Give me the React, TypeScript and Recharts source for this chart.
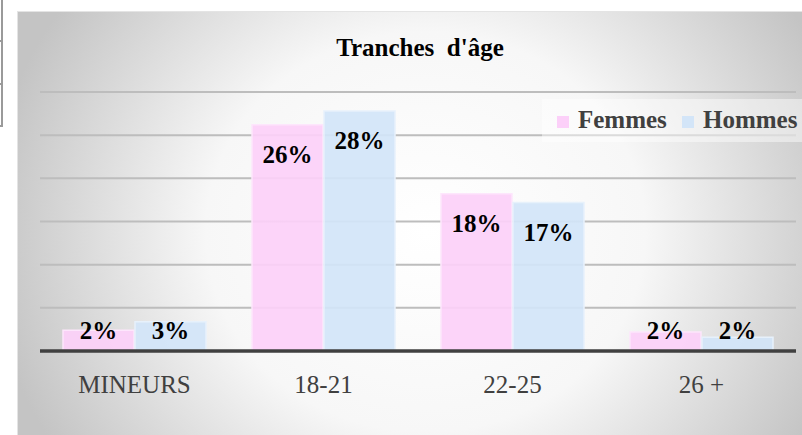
import React from 'react'
import {
  BarChart,
  Bar,
  XAxis,
  YAxis,
  CartesianGrid,
  ReferenceLine,
  LabelList,
} from 'recharts'

const categories = ['MINEURS', '18-21', '22-25', '26 +']
const femmes = [2.4, 26.2, 18.2, 2.2]
const hommes = [3.4, 27.8, 17.2, 1.6]
const yTicks = [0, 5, 10, 15, 20, 25, 30]

const data = categories.map((name, i) => ({ name, femmes: femmes[i], hommes: hommes[i] }))

const FONT = "'Liberation Serif', 'Times New Roman', serif"
const PINK = '#fcd0f9'
const BLUE = '#d3e5f8'

// label sits ~30px under the bar top, but never lower than just above the baseline
function BarLabel(props: any) {
  const { x, y, width, height, value } = props
  const cy = Math.min(y + 30, y + height - 21)
  return (
    <text
      x={x + width / 2}
      y={cy}
      textAnchor="middle"
      dominantBaseline="central"
      fontFamily={FONT}
      fontWeight="bold"
      fontSize={25}
      fill="#000"
    >
      {Math.round(value)}%
    </text>
  )
}

function CategoryTick(props: any) {
  const { x, y, payload } = props
  return (
    <text x={x} y={y + 42} textAnchor="middle" fontFamily={FONT} fontSize={25} fill="#404040">
      {payload.value}
    </text>
  )
}

function LegendBox() {
  const sq = { position: 'absolute' as const, top: 17, width: 12, height: 12 }
  const txt = {
    position: 'absolute' as const,
    top: 8,
    fontFamily: FONT,
    fontWeight: 'bold' as const,
    fontSize: 25,
    lineHeight: '26px',
    color: '#404040',
    whiteSpace: 'nowrap' as const,
  }
  return (
    <div style={{ position: 'absolute', left: 542, top: 99, width: 260, height: 43, background: 'rgba(255,255,255,0.45)' }}>
      <div style={{ ...sq, left: 15, background: PINK }} />
      <div style={{ ...txt, left: 36 }}>Femmes</div>
      <div style={{ ...sq, left: 140, background: BLUE }} />
      <div style={{ ...txt, left: 161 }}>Hommes</div>
    </div>
  )
}

export default function App() {
  return (
    <div style={{ position: 'absolute', left: 0, top: 0, width: 802, height: 435, background: '#fff', overflow: 'hidden' }}>
      <div
        style={{
          position: 'absolute',
          left: 17,
          top: 11,
          width: 785,
          height: 424,
          background:
            'radial-gradient(ellipse 440px 400px at 52% 52%, #ffffff 0%, #f7f7f7 50%, #c4c4c4 100%)',
          borderTop: '1px solid #e4e4e4',
          borderLeft: '1px solid #e4e4e4',
          boxSizing: 'border-box',
        }}
      >
        <BarChart
          width={785}
          height={424}
          data={data}
          margin={{ top: 81, right: 6, left: 23, bottom: 0 }}
          barSize={71}
          barGap={1}
          style={{ position: 'absolute', left: -1, top: -1 }}
        >
          <CartesianGrid vertical={false} stroke="#bdbdbd" strokeWidth={2} />
          <YAxis hide domain={[0, 30]} ticks={yTicks} />
          <XAxis
            dataKey="name"
            height={84}
            axisLine={false}
            tickLine={false}
            tickSize={0}
            tickMargin={0}
            tick={<CategoryTick />}
            interval={0}
          />
          <Bar dataKey="femmes" name="Femmes" fill={PINK} fillOpacity={0.92} stroke="#fde6fc" strokeWidth={1.5} isAnimationActive={false}>
            <LabelList dataKey="femmes" content={<BarLabel />} />
          </Bar>
          <Bar dataKey="hommes" name="Hommes" fill={BLUE} fillOpacity={0.92} stroke="#e7f1fb" strokeWidth={1.5} isAnimationActive={false}>
            <LabelList dataKey="hommes" content={<BarLabel />} />
          </Bar>
          <ReferenceLine y={0} stroke="#404040" strokeWidth={3.5} />
        </BarChart>
      </div>
      <LegendBox />
      <svg width={802} height={435} style={{ position: 'absolute', left: 0, top: 0, pointerEvents: 'none' }}>
        <line x1={2} y1={0} x2={2} y2={126} stroke="#9a9a9a" strokeWidth={2} />
        <line x1={0} y1={41} x2={3} y2={41} stroke="#9a9a9a" strokeWidth={2} />
        <line x1={0} y1={84} x2={3} y2={84} stroke="#9a9a9a" strokeWidth={2} />
        <line x1={0} y1={126} x2={3} y2={126} stroke="#9a9a9a" strokeWidth={2} />
        <text x={420} y={56} textAnchor="middle" fontFamily={FONT} fontWeight="bold" fontSize={25} fill="#000">
          {'Tranches\u00a0 d\'âge'}
        </text>
      </svg>
    </div>
  )
}
